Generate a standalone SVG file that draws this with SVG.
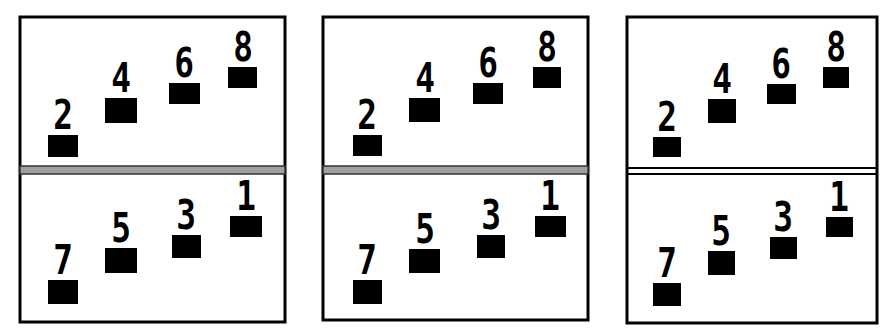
<svg xmlns="http://www.w3.org/2000/svg" width="886" height="336" viewBox="0 0 886 336">
<style>
.frame{fill:#fff;stroke:#000;stroke-width:3}
.band{fill:#a0a0a0;stroke:#333;stroke-width:1.5}
.dl{stroke:#000;stroke-width:2}
.blk{fill:#000}
.lbl{font-family:"DejaVu Sans Mono",monospace;font-weight:bold;font-size:40px;fill:#000;text-anchor:middle}
</style>
<rect width="886" height="336" fill="#fff"/>
<g id="panel1">
<rect class="frame" x="20" y="17" width="265" height="305"/>
<rect class="band" x="20" y="166" width="265" height="8"/>
<g id="p1n2"><rect class="blk" x="48" y="135" width="30" height="22"/><text class="lbl" transform="translate(63,129) scale(0.82,1)">2</text></g>
<g id="p1n4"><rect class="blk" x="105" y="98" width="32" height="25"/><text class="lbl" transform="translate(121,92) scale(0.82,1)">4</text></g>
<g id="p1n6"><rect class="blk" x="169" y="83" width="31" height="21"/><text class="lbl" transform="translate(184,77) scale(0.82,1)">6</text></g>
<g id="p1n8"><rect class="blk" x="228" y="67" width="29" height="21"/><text class="lbl" transform="translate(243,61) scale(0.82,1)">8</text></g>
<g id="p1n7"><rect class="blk" x="48" y="280" width="30" height="24"/><text class="lbl" transform="translate(63,274) scale(0.82,1)">7</text></g>
<g id="p1n5"><rect class="blk" x="105" y="248" width="32" height="25"/><text class="lbl" transform="translate(121,242) scale(0.82,1)">5</text></g>
<g id="p1n3"><rect class="blk" x="172" y="235" width="29" height="23"/><text class="lbl" transform="translate(186,229) scale(0.82,1)">3</text></g>
<g id="p1n1"><rect class="blk" x="230" y="216" width="32" height="21"/><text class="lbl" transform="translate(246,210) scale(0.82,1)">1</text></g>
</g>
<g id="panel2">
<rect class="frame" x="323" y="17" width="265" height="303"/>
<rect class="band" x="323" y="166" width="265" height="8"/>
<g id="p2n2"><rect class="blk" x="353" y="135" width="29" height="21"/><text class="lbl" transform="translate(367,129) scale(0.82,1)">2</text></g>
<g id="p2n4"><rect class="blk" x="409" y="98" width="31" height="24"/><text class="lbl" transform="translate(425,92) scale(0.82,1)">4</text></g>
<g id="p2n6"><rect class="blk" x="473" y="83" width="30" height="21"/><text class="lbl" transform="translate(488,77) scale(0.82,1)">6</text></g>
<g id="p2n8"><rect class="blk" x="533" y="67" width="28" height="21"/><text class="lbl" transform="translate(547,61) scale(0.82,1)">8</text></g>
<g id="p2n7"><rect class="blk" x="353" y="280" width="29" height="24"/><text class="lbl" transform="translate(367,274) scale(0.82,1)">7</text></g>
<g id="p2n5"><rect class="blk" x="409" y="249" width="31" height="24"/><text class="lbl" transform="translate(425,243) scale(0.82,1)">5</text></g>
<g id="p2n3"><rect class="blk" x="477" y="235" width="28" height="23"/><text class="lbl" transform="translate(491,229) scale(0.82,1)">3</text></g>
<g id="p2n1"><rect class="blk" x="535" y="216" width="31" height="21"/><text class="lbl" transform="translate(550,210) scale(0.82,1)">1</text></g>
</g>
<g id="panel3">
<rect class="frame" x="627" y="17" width="250" height="306"/>
<line class="dl" x1="627" y1="168" x2="877" y2="168"/>
<line class="dl" x1="627" y1="174" x2="877" y2="174"/>
<g id="p3n2"><rect class="blk" x="653" y="137" width="28" height="20"/><text class="lbl" transform="translate(667,131) scale(0.82,1)">2</text></g>
<g id="p3n4"><rect class="blk" x="708" y="99" width="28" height="24"/><text class="lbl" transform="translate(722,93) scale(0.82,1)">4</text></g>
<g id="p3n6"><rect class="blk" x="767" y="84" width="29" height="20"/><text class="lbl" transform="translate(781,78) scale(0.82,1)">6</text></g>
<g id="p3n8"><rect class="blk" x="823" y="67" width="26" height="21"/><text class="lbl" transform="translate(836,61) scale(0.82,1)">8</text></g>
<g id="p3n7"><rect class="blk" x="653" y="283" width="28" height="23"/><text class="lbl" transform="translate(667,277) scale(0.82,1)">7</text></g>
<g id="p3n5"><rect class="blk" x="708" y="251" width="27" height="24"/><text class="lbl" transform="translate(721,245) scale(0.82,1)">5</text></g>
<g id="p3n3"><rect class="blk" x="770" y="237" width="27" height="22"/><text class="lbl" transform="translate(783,231) scale(0.82,1)">3</text></g>
<g id="p3n1"><rect class="blk" x="826" y="217" width="27" height="20"/><text class="lbl" transform="translate(839,211) scale(0.82,1)">1</text></g>
</g>
</svg>
